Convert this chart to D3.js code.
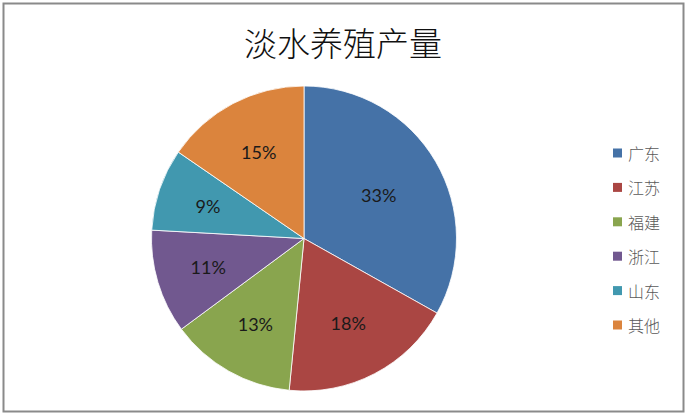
<!DOCTYPE html>
<html>
<head>
<meta charset="utf-8">
<script src="https://cdn.jsdelivr.net/npm/d3@7"></script>
<style>
  body { margin: 0; background: #fff; }
  svg { display: block; }
</style>
</head>
<body>
<svg width="691" height="418"></svg>
<script>
// data
const regions = ['广东', '江苏', '福建', '浙江', '山东', '其他'];
const shares = [33.1, 18.4, 13.3, 11.0, 8.7, 15.4];
const colors = ['#4572A7', '#AA4643', '#89A54E', '#71588F', '#4198AF', '#DB843D'];
const title = '淡水养殖产量';

const svg = d3.select('svg');

// frame
svg.append('rect')
  .attr('x', 3.5)
  .attr('y', 3.5)
  .attr('width', 680)
  .attr('height', 408)
  .style('fill', '#fff')
  .style('stroke', '#8a8a8a')
  .style('stroke-width', 2)
;

svg.append('text')
  .attr('x', 343)
  .attr('y', 42)
  .attr('text-anchor', 'middle')
  .attr('dominant-baseline', 'central')
  .style('font-family', '"Noto Sans CJK SC"')
  .style('font-size', '33px')
  .style('font-weight', 300)
  .style('fill', '#111')
  .text(title)
;

const cx = 304, cy = 238.5, radius = 152.5;
const color = d3.scaleOrdinal().domain(regions).range(colors);
const pie = d3.pie().sort(null).value(d => d.value);
const data = regions.map((name, i) => ({name, value: shares[i]}));
const total = d3.sum(shares);
const arcs = pie(data);
const arc = d3.arc().innerRadius(0).outerRadius(radius);

// bigger slices keep their label nearer the centre
function labelPos(d) {
  const frac = d.data.value / total;
  const r = radius * (0.7 - 0.4 * frac);
  return d3.arc().innerRadius(r).outerRadius(r).centroid(d);
}

const g = svg.append('g').attr('transform', `translate(${cx},${cy})`);

g.selectAll('path')
  .data(arcs)
  .join('path')
  .attr('d', arc)
  .attr('fill', d => color(d.data.name))
  .style('stroke', '#fff')
  .style('stroke-width', 0.8)
;

g.selectAll('text')
  .data(arcs)
  .join('text')
  .attr('transform', d => `translate(${labelPos(d)})`)
  .attr('text-anchor', 'middle')
  .attr('dominant-baseline', 'central')
  .style('font-family', 'Lato, "Liberation Sans", sans-serif')
  .style('font-size', '18px')
  .style('fill', '#1a1a1a')
  .text(d => d3.format('.0%')(d.data.value / total))
;

// legend
const legendY = d3.scalePoint().domain(regions).range([153, 325]);
const legend = svg.append('g')
  .selectAll('g')
  .data(regions)
  .join('g')
  .attr('transform', d => `translate(613,${legendY(d)})`)
;

legend.append('rect')
  .attr('x', 0)
  .attr('y', -4.5)
  .attr('width', 9)
  .attr('height', 9)
  .attr('fill', d => color(d))
;

legend.append('text')
  .attr('x', 15)
  .attr('y', 0)
  .attr('dominant-baseline', 'central')
  .style('font-family', '"Noto Sans CJK SC"')
  .style('font-size', '16px')
  .style('font-weight', 300)
  .style('fill', '#595959')
  .text(d => d)
;
</script>
</body>
</html>
